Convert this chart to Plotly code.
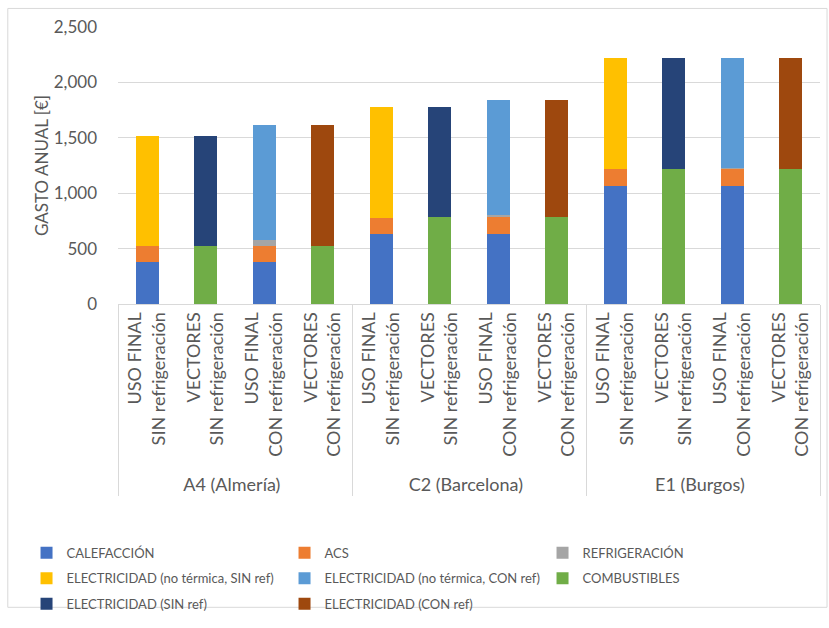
import plotly.graph_objects as go

groups = ["A4 (Almería)"] * 4 + ["C2 (Barcelona)"] * 4 + ["E1 (Burgos)"] * 4
subcats = ["USO FINAL<br>SIN refrigeración", "VECTORES<br>SIN refrigeración",
           "USO FINAL<br>CON refrigeración", "VECTORES<br>CON refrigeración"] * 3

calefaccion = [377, None, 377, None, 636, None, 636, None, 1068, None, 1068, None]
acs = [144, None, 144, None, 144, None, 147, None, 153, None, 153, None]
refrigeracion = [None, None, 59, None, None, None, 20, None, None, None, 2, None]
elec_nt_sin = [998, None, None, None, 995, None, None, None, 995, None, None, None]
elec_nt_con = [None, None, 1039, None, None, None, 1040, None, None, None, 993, None]
combustibles = [None, 521, None, 521, None, 786, None, 786, None, 1221, None, 1221]
elec_sin = [None, 998, None, None, None, 989, None, None, None, 995, None, None]
elec_con = [None, None, None, 1098, None, None, None, 1057, None, None, None, 995]

series = [
    ("CALEFACCIÓN", calefaccion, "#4472C4", "legend"),
    ("ACS", acs, "#ED7D31", "legend"),
    ("REFRIGERACIÓN", refrigeracion, "#A5A5A5", "legend"),
    ("ELECTRICIDAD (no térmica, SIN ref)", elec_nt_sin, "#FFC000", "legend2"),
    ("ELECTRICIDAD (no térmica, CON ref)", elec_nt_con, "#5B9BD5", "legend2"),
    ("COMBUSTIBLES", combustibles, "#70AD47", "legend2"),
    ("ELECTRICIDAD (SIN ref)", elec_sin, "#264478", "legend3"),
    ("ELECTRICIDAD (CON ref)", elec_con, "#9E480E", "legend3"),
]

FONT = "Lato, Carlito, Calibri, sans-serif"
TXT = "#595959"
GRID = "#D9D9D9"

fig = go.Figure()
for name, vals, col, lg in series:
    fig.add_trace(go.Bar(x=[groups, subcats], y=vals, name=name, legend=lg,
                         marker=dict(color=col, line=dict(width=0))))

def leg(yc):
    return dict(orientation="h", x=-0.1303, xanchor="left", y=yc, yanchor="middle",
                entrywidth=213, entrywidthmode="pixels", traceorder="normal",
                bgcolor="rgba(0,0,0,0)", font=dict(size=13, color=TXT, family=FONT))

fig.update_layout(
    barmode="stack",
    bargap=0.6,
    width=829, height=628,
    margin=dict(l=118, r=9, t=27, b=318),
    paper_bgcolor="white", plot_bgcolor="white",
    font=dict(family=FONT, color=TXT, size=14),
    showlegend=True,
    legend=leg(-0.898),
    legend2=leg(-0.990),
    legend3=leg(-1.082),
    xaxis=dict(type="multicategory", tickangle=-90, showgrid=False, automargin=False,
               showline=True, linecolor=GRID, linewidth=1,
               showdividers=True, dividercolor=GRID, dividerwidth=1,
               tickfont=dict(size=18, color=TXT, family=FONT), ticks=""),
    yaxis=dict(range=[0, 2500], dtick=500, tickformat=",", showgrid=True, automargin=False,
               gridcolor=GRID, gridwidth=1, zeroline=False, showline=False,
               tickfont=dict(size=17, color=TXT, family=FONT), ticklabelstandoff=20,
               title=dict(text="GASTO ANUAL [€]", font=dict(size=17, color=TXT, family=FONT),
                          standoff=0)),
    shapes=[dict(type="rect", xref="paper", yref="paper",
                 x0=-0.157, x1=1.01, y0=-1.095, y1=1.067,
                 line=dict(color=GRID, width=1), fillcolor="rgba(0,0,0,0)", layer="below")],
)

fig.write_html("out.html")
